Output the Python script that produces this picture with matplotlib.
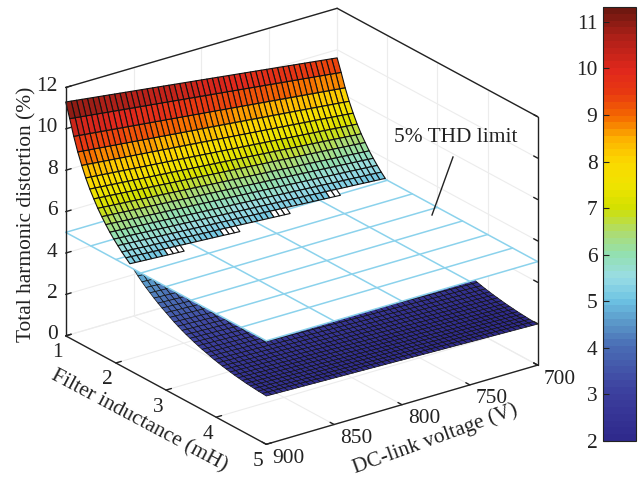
# plot.py - THD surface vs filter inductance and DC-link voltage, with 5% limit plane
import numpy as np
import matplotlib; matplotlib.use("Agg"); import matplotlib.pyplot as plt
from matplotlib.colors import LinearSegmentedColormap, Normalize
from matplotlib.cm import ScalarMappable
from matplotlib.lines import Line2D
from mpl_toolkits.mplot3d import proj3d
from mpl_toolkits.mplot3d.art3d import Poly3DCollection

plt.rcParams['font.family'] = ['Liberation Serif', 'DejaVu Serif']

W, H = 642, 479

voltage = [900, 896, 892, 888, 884, 880, 876, 872, 868, 864, 860, 856, 852, 848, 844, 840, 836,
           832, 828, 824, 820, 816, 812, 808, 804, 800, 796, 792, 788, 784, 780, 776, 772, 768,
           764, 760, 756, 752, 748, 744, 740, 736, 732, 728, 724, 720, 716, 712, 708, 704, 700]
inductance = [1.00, 1.08, 1.16, 1.24, 1.32, 1.40, 1.48, 1.56, 1.64, 1.72, 1.80, 1.88, 1.96, 2.04,
              2.12, 2.20, 2.28, 2.36, 2.44, 2.52, 2.60, 2.68, 2.76, 2.84, 2.92, 3.00, 3.08, 3.16,
              3.24, 3.32, 3.40, 3.48, 3.56, 3.64, 3.72, 3.80, 3.88, 3.96, 4.04, 4.12, 4.20, 4.28,
              4.36, 4.44, 4.52, 4.60, 4.68, 4.76, 4.84, 4.92, 5.00]
# THD along the 900 V edge of the surface
thd_at_900v = [11.30, 10.60, 9.85, 9.20, 8.65, 8.15, 7.72, 7.35, 7.00, 6.70, 6.42, 6.16, 5.93, 5.72,
               5.52, 5.34, 5.16, 4.98, 4.78, 4.60, 4.43, 4.28, 4.13, 3.99, 3.86, 3.74, 3.62, 3.50,
               3.40, 3.30, 3.21, 3.13, 3.05, 2.98, 2.91, 2.85, 2.79, 2.73, 2.68, 2.63, 2.59, 2.55,
               2.51, 2.48, 2.45, 2.42, 2.40, 2.38, 2.36, 2.35, 2.33]
# how much lower the surface sits at each voltage, relative to the 900 V edge
voltage_ratio = [1.000, 0.997, 0.994, 0.991, 0.988, 0.985, 0.982, 0.979, 0.976, 0.973, 0.970, 0.967,
                 0.964, 0.961, 0.958, 0.955, 0.952, 0.949, 0.946, 0.943, 0.940, 0.937, 0.934, 0.931,
                 0.928, 0.925, 0.922, 0.919, 0.916, 0.913, 0.910, 0.907, 0.904, 0.901, 0.898, 0.895,
                 0.892, 0.889, 0.886, 0.883, 0.880, 0.877, 0.874, 0.871, 0.868, 0.865, 0.862, 0.859,
                 0.856, 0.853, 0.850]

thd_limit = 5
limit_v = [700, 750, 800, 850, 900]
limit_l = [1, 1.5, 2, 2.5, 3, 3.5, 4, 4.5, 5]

v_ticks = [700, 750, 800, 850, 900]
l_ticks = [1, 2, 3, 4, 5]
z_ticks = [0, 2, 4, 6, 8, 10, 12]
cbar_ticks = [2, 3, 4, 5, 6, 7, 8, 9, 10, 11]

cmap_values = [2.0, 3.0, 4.0, 4.5, 5.0, 5.5, 6.0, 6.5, 7.0, 7.5, 8.0, 8.5, 9.0, 9.5, 10.0, 10.7, 11.32]
cmap_colors = ["#2F2A8C", "#3C3F9E", "#4A6DB5", "#5A97C8", "#6DC3E3", "#9ADDE4", "#93E0B0", "#AEDC6E",
               "#D2E000", "#EFE300", "#FBD900", "#FDB300", "#F56A00", "#E83A10", "#E0281C", "#B02018",
               "#701810"]

BLACK = "#222222"
GRID = "#ececec"
CYAN = "#8bd2ec"
FS = 15.4

norm = Normalize(cmap_values[0], cmap_values[-1])
cmap = LinearSegmentedColormap.from_list(
    "thd", [(norm(v), c) for v, c in zip(cmap_values, cmap_colors)], N=64)

fig = plt.figure(figsize=(W / 100, H / 100), dpi=100)
side = 533
cx, cy = 294.5, 233.5
ax = fig.add_axes([(cx - side / 2) / W, 1 - (cy + side / 2) / H, side / W, side / H],
                  projection="3d", proj_type="ortho", computed_zorder=False)
ax.view_init(elev=23.4, azim=53.7)
ax.set_box_aspect((336, 338, 270))
ax.set_xlim(700, 900)
ax.set_ylim(1, 5)
ax.set_zlim(0, 12)
ax.set_autoscale_on(False)
ax.set_axis_off()


def line3(xs, ys, zs, color=BLACK, lw=1.0, zorder=1):
    ax.plot3D(xs, ys, zs, color=color, lw=lw, zorder=zorder, solid_capstyle="round")


def label3(x, y, z, text, dx, dy, **kw):
    u, v, _ = proj3d.proj_transform(x, y, z, ax.get_proj())
    ax.annotate(text, xy=(u, v), xytext=(dx * 0.72, -dy * 0.72), textcoords="offset points",
                ha=kw.pop("ha", "center"), va="center", fontsize=FS, color=BLACK,
                annotation_clip=False, **kw)


# walls and floor
for v in v_ticks:
    line3([v, v], [1, 5], [0, 0], GRID, 0.8)
    line3([v, v], [1, 1], [0, 12], GRID, 0.8)
for l in l_ticks:
    line3([700, 900], [l, l], [0, 0], GRID, 0.8)
    line3([700, 700], [l, l], [0, 12], GRID, 0.8)
for z in z_ticks:
    line3([700, 900], [1, 1], [z, z], GRID, 0.8)
    line3([700, 700], [1, 5], [z, z], GRID, 0.8)

# surface cells, split on the limit plane
V, L = np.meshgrid(voltage, inductance)
Z = np.outer(thd_at_900v, voltage_ratio)
below, below_c, above, above_c = [], [], [], []
for i in range(len(inductance) - 1):
    for j in range(len(voltage) - 1):
        idx = [(i, j), (i, j + 1), (i + 1, j + 1), (i + 1, j)]
        quad = [(V[k], L[k], Z[k]) for k in idx]
        zs = [Z[k] for k in idx]
        col = cmap(norm(np.mean(zs)))
        if min(zs) >= thd_limit:
            above.append(quad)
            # cells that touch the plane come out white in the original
            above_c.append("white" if min(zs) < thd_limit + 0.04 else col)
        else:
            below.append(quad)
            below_c.append(col)

ax.add_collection3d(Poly3DCollection(below, facecolors=below_c, edgecolors="#111111",
                                     linewidths=0.5, zorder=2))
plane = [[(700, 1, thd_limit), (900, 1, thd_limit), (900, 5, thd_limit), (700, 5, thd_limit)]]
ax.add_collection3d(Poly3DCollection(plane, facecolors="white", edgecolors="none", zorder=3))
for v in limit_v:
    line3([v, v], [1, 5], [thd_limit, thd_limit], CYAN, 1.1, 4)
for l in limit_l:
    line3([700, 900], [l, l], [thd_limit, thd_limit], CYAN, 1.1, 4)
ax.add_collection3d(Poly3DCollection(above, facecolors=above_c, edgecolors="#111111",
                                     linewidths=0.8, zorder=5))

# box
line3([900, 900], [1, 1], [0, 12], zorder=6)
line3([700, 700], [5, 5], [0, 12], zorder=6)
line3([900, 700], [1, 1], [12, 12], zorder=6)
line3([700, 700], [1, 5], [12, 12], zorder=6)
line3([900, 900], [1, 5], [0, 0], zorder=6)
line3([900, 700], [5, 5], [0, 0], zorder=6)

# ticks and tick labels
for z in z_ticks:
    line3([900, 896], [1, 1], [z, z], zorder=6)
    line3([700, 700], [5, 4.92], [z, z], zorder=6)
    label3(900, 1, z, str(z), -8, -1, ha="right")
for l in l_ticks:
    line3([900, 896], [l, l], [0, 0], zorder=6)
    label3(900, l, 0, str(l), -8, 17)
for v in v_ticks:
    line3([v, v], [5, 4.92], [0, 0], zorder=6)
    label3(v, 5, 0, str(v), 22, 14)

# axis labels and the note
fig.text(27 / W, 1 - 214 / H, "Total harmonic distortion (%)", rotation=90, fontsize=FS,
         ha="center", va="center", color=BLACK)
fig.text(139 / W, 1 - 421 / H, "Filter inductance (mH)", rotation=-28, fontsize=FS,
         ha="center", va="center", color=BLACK, rotation_mode="anchor")
fig.text(435 / W, 1 - 439 / H, "DC-link voltage (V)", rotation=20, fontsize=FS,
         ha="center", va="center", color=BLACK, rotation_mode="anchor")
fig.text(456 / W, 1 - 138 / H, "5% THD limit", fontsize=FS, ha="center", va="center", color=BLACK)
fig.add_artist(Line2D([453 / W, 432 / W], [1 - 157 / H, 1 - 215 / H], color=BLACK, lw=1.0))

# colorbar
cax = fig.add_axes([603 / W, 1 - 441 / H, 33 / W, 434 / H])
cb = fig.colorbar(ScalarMappable(norm=norm, cmap=cmap), cax=cax, ticklocation="left")
cb.set_ticks(cbar_ticks)
cb.ax.tick_params(direction="in", length=4, width=0.8, labelsize=FS, pad=4, colors=BLACK)
cb.outline.set_edgecolor(BLACK)
cb.outline.set_linewidth(0.8)

fig.savefig("out.png", dpi=100)
plt.close()
